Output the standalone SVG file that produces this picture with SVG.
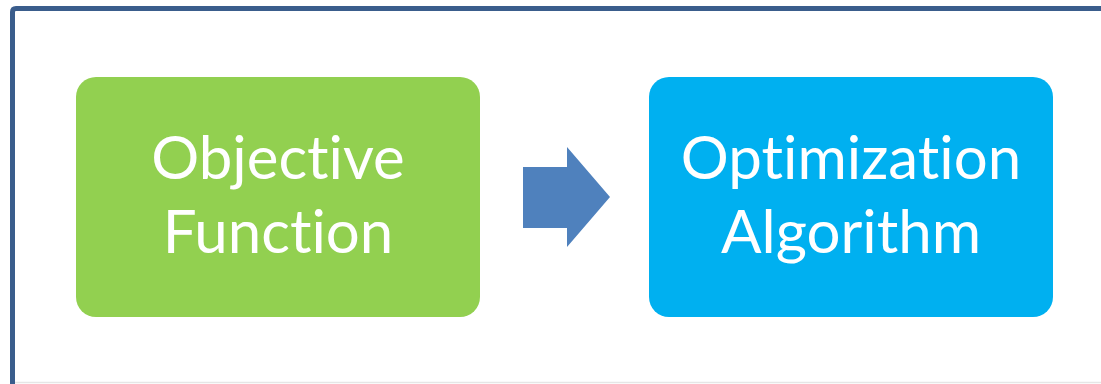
<svg xmlns="http://www.w3.org/2000/svg" width="1101" height="384" viewBox="0 0 1101 384">
<style>
.lbl{font-family:Lato,"Open Sans","Liberation Sans",sans-serif;font-size:60px;fill:#ffffff;text-anchor:middle;font-variant-ligatures:none;font-feature-settings:"liga" 0}
</style>
<rect x="0" y="0" width="1101" height="384" fill="#ffffff"/>
<path d="M12.5 384 V12 Q12.5 8.5 16 8.5 H1101" fill="none" stroke="#3A5D8C" stroke-width="5"/>
<line x1="15" y1="382.5" x2="1101" y2="382.5" stroke="#e6e6e6" stroke-width="1.5"/>
<g id="objective">
<rect x="76" y="77" width="404" height="240" rx="20" ry="20" fill="#92D050"/>
<text class="lbl" x="278" y="179">Objective</text>
<text class="lbl" x="278" y="253">Function</text>
</g>
<g id="connectors">
<polygon points="523,167 567,167 567,147 610,197 567,247 567,228 523,228" fill="#4F81BD"/>
</g>
<g id="optimization">
<rect x="649" y="77" width="404" height="240" rx="20" ry="20" fill="#00B0F0"/>
<text class="lbl" x="851" y="179">Optimization</text>
<text class="lbl" x="851" y="253">Algorithm</text>
</g>
</svg>
